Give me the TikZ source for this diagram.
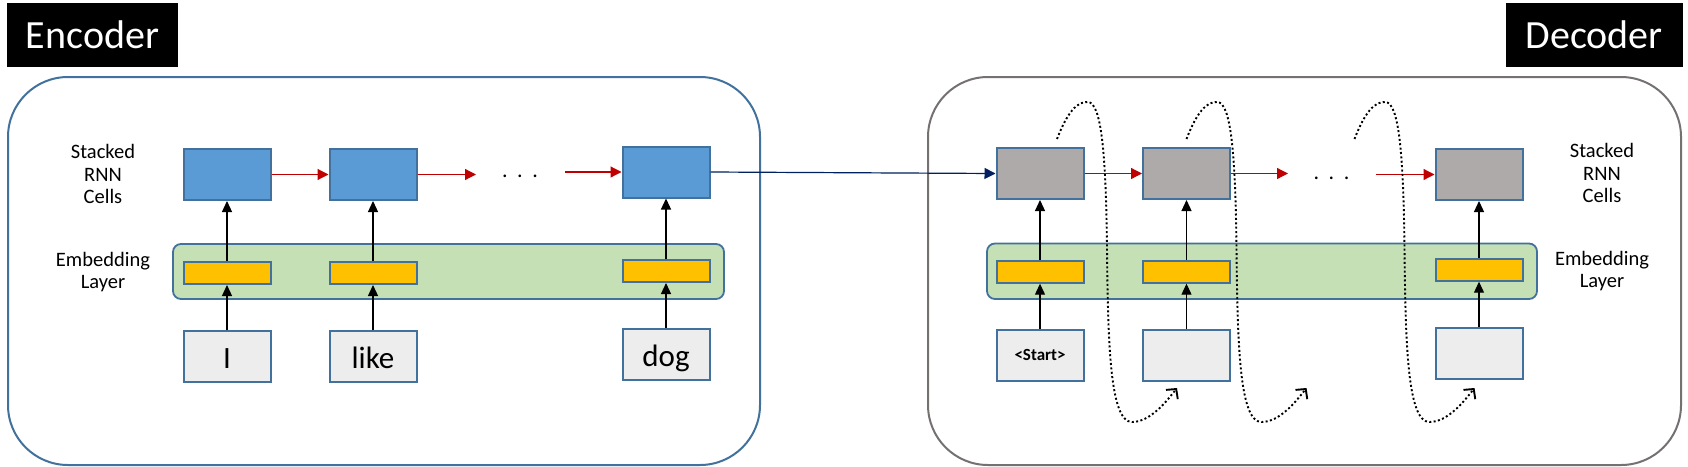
\documentclass[tikz,border=0pt]{standalone}
\usepackage{fontspec}
\setmainfont{Carlito}
\usepackage{tikz}
\usetikzlibrary{arrows.meta,calc}

\definecolor{cellblue}{RGB}{91,155,213}
\definecolor{edgeblue}{RGB}{65,113,156}
\definecolor{cellgray}{RGB}{174,170,170}
\definecolor{embyellow}{RGB}{255,192,0}
\definecolor{embgreen}{RGB}{197,224,180}
\definecolor{wordgray}{RGB}{237,237,237}
\definecolor{arrowred}{RGB}{192,0,0}
\definecolor{linknavy}{RGB}{0,32,96}
\definecolor{framegray}{RGB}{118,113,113}

\tikzset{
  lblbox/.style={fill=black, text=white, inner sep=0pt, font=\fontsize{40}{42}\selectfont},
  framebox/.style={line width=2pt, rounded corners=60pt},
  layerbox/.style={draw=edgeblue, fill=embgreen, line width=1.8pt, rounded corners=8pt},
  cellbox/.style={draw=edgeblue, line width=2pt, minimum width=87pt, minimum height=51pt, inner sep=0pt},
  enccell/.style={cellbox, fill=cellblue},
  deccell/.style={cellbox, fill=cellgray},
  embbox/.style={draw=edgeblue, line width=2pt, fill=embyellow, minimum width=87pt, minimum height=22pt, inner sep=0pt},
  wordbox/.style={cellbox, fill=wordgray, font=\fontsize{31}{33}\selectfont, text height=23pt, text depth=0pt},
  sidetext/.style={align=center, font=\fontsize{20.5}{22.5}\selectfont},
  dotstext/.style={anchor=base, font=\fontsize{22}{24}\selectfont},
  uparrow/.style={-{Triangle[length=11pt,width=10pt]}, line width=1.2pt},
  redarrow/.style={arrowred, -{Triangle[length=11pt,width=11pt]}, line width=1.2pt},
  linkarrow/.style={linknavy, -{Triangle[length=11pt,width=11pt]}, line width=1.2pt},
  fbarrow/.style={dash pattern=on 2pt off 2.4pt, line width=1.9pt, -{Straight Barb[length=7pt,width=15pt]}},
}

\begin{document}
\begin{tikzpicture}[x=1pt, y=-1pt]
    \useasboundingbox (0,0) rectangle (1688,466);

    % Encoder
    \node[lblbox, minimum width=171pt, minimum height=63.5pt] (enclabel) at (92.5,35) {Encoder};
    \draw[framebox, draw=edgeblue] (8,77) rectangle (760,465);
    \draw[layerbox] (173,244) rectangle (724,299);

    \node[enccell] (ecell1) at (227,174.5) {};
    \node[enccell] (ecell2) at (373,174.5) {};
    \node[enccell] (ecell3) at (666,172) {};
    \node[embbox] (eemb1) at (227,273) {};
    \node[embbox] (eemb2) at (373,273) {};
    \node[embbox] (eemb3) at (666,271) {};
    \node[wordbox] (eword1) at (227,356.5) {I};
    \node[wordbox] (eword2) at (373,356.5) {like};
    \node[wordbox] (eword3) at (666,354.5) {dog};

    \node[sidetext] (estack) at (103,174) {Stacked\\RNN\\Cells};
    \node[sidetext] (eembtext) at (103,272) {Embedding\\Layer};

    \foreach \i in {1,2,3} {
        \draw[uparrow] (eword\i) -- (eemb\i);
        \draw[uparrow] (eemb\i) -- (ecell\i);
    }

    \coordinate (egap1) at (476,174.5);
    \coordinate (egap2) at (565,172);
    \node[dotstext] (edots) at (520,177.5) {.\hspace{9.5pt}.\hspace{9.5pt}.};
    \draw[redarrow] (ecell1) -- (ecell2);
    \draw[redarrow] (ecell2.east) -- (egap1);
    \draw[redarrow] (egap2) -- (ecell3.west);

    % Decoder
    \node[lblbox, minimum width=177pt, minimum height=63.5pt] (declabel) at (1594,35) {Decoder};
    \draw[framebox, draw=framegray] (928,77) rectangle (1681,465);
    \draw[layerbox] (987,243.5) rectangle (1537,299);

    \node[deccell] (dcell1) at (1040,173.5) {};
    \node[deccell] (dcell2) at (1186.5,173.5) {};
    \node[deccell] (dcell3) at (1479,174.5) {};
    \node[embbox] (demb1) at (1040,271.7) {};
    \node[embbox] (demb2) at (1186.5,271.7) {};
    \node[embbox] (demb3) at (1479,269.7) {};
    \node[cellbox, fill=wordgray, font=\fontsize{17}{19}\selectfont\bfseries] (dword1) at (1040,355.3) {<Start>};
    \node[cellbox, fill=wordgray] (dword2) at (1186.5,355.3) {};
    \node[cellbox, fill=wordgray] (dword3) at (1479,353.4) {};

    \node[sidetext] (dstack) at (1602,173) {Stacked\\RNN\\Cells};
    \node[sidetext] (dembtext) at (1602,271) {Embedding\\Layer};

    \foreach \i in {1,2,3} {
        \draw[uparrow] (dword\i) -- (demb\i);
        \draw[uparrow] (demb\i) -- (dcell\i);
    }

    \coordinate (dgap1) at (1288,173.5);
    \coordinate (dgap2) at (1376,174.5);
    \node[dotstext] (ddots) at (1331.5,179) {.\hspace{9.5pt}.\hspace{9.5pt}.};
    \draw[redarrow] (dcell1) -- (dcell2);
    \draw[redarrow] (dcell2.east) -- (dgap1);
    \draw[redarrow] (dgap2) -- (dcell3.west);

    % encoder state into decoder
    \draw[linkarrow] (ecell3.east) -- (dcell1.west);

    % output fed back as next input
    \foreach \dx/\n in {0/1,129.5/2,297.5/3} {
        \begin{scope}[xshift=\dx]
            \coordinate (fb\n a) at (1057,139);
            \coordinate (fb\n b) at (1177,388);
            \draw[fbarrow] (fb\n a) .. controls (1067,113) and (1077,101) .. (1088,102)
                .. controls (1101,103) and (1106,150) .. (1107,250)
                .. controls (1108,345) and (1110,422) .. (1132,422)
                .. controls (1150,422) and (1166,402) .. (fb\n b);
        \end{scope}
    }
\end{tikzpicture}
\end{document}
